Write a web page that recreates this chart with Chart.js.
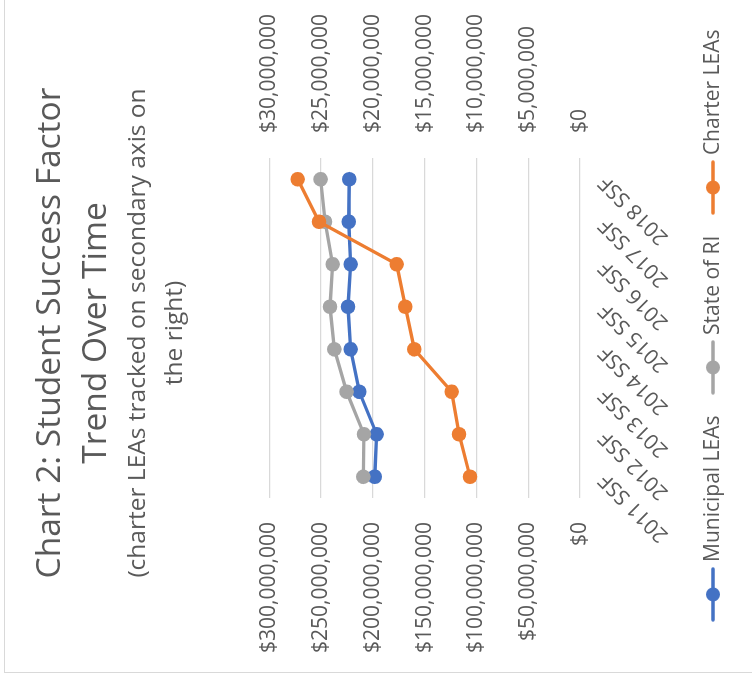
<!DOCTYPE html>
<html>
<head>
<meta charset="utf-8">
<script src="https://cdn.jsdelivr.net/npm/chart.js@4.4.1/dist/chart.umd.min.js"></script>
<style>
  html, body { margin: 0; padding: 0; background: #fff; overflow: hidden; width: 752px; height: 684px; }
  /* The chart is laid out in portrait and turned a quarter turn counter-clockwise */
  #stage { position: absolute; left: 0; top: 0; width: 684px; height: 752px;
           transform-origin: 0 0; transform: translate(0, 684px) rotate(-90deg); }
  #box { position: absolute; left: 11px; top: 4px; width: 678px; height: 760px;
         border: 1px solid #d9d9d9; background: #fff; }
  #c { display: block; }
</style>
</head>
<body>
<div id="stage"><div id="box"><canvas id="c" width="678" height="760" style="width:678px;height:760px"></canvas></div></div>
<script>
// Student Success Factor totals by year
const categories = ['2011 SSF', '2012 SSF', '2013 SSF', '2014 SSF', '2015 SSF', '2016 SSF', '2017 SSF', '2018 SSF'];
const municipalLEAs = [198200000, 196300000, 213100000, 221400000, 224000000, 221400000, 223300000, 222800000];
const stateOfRI     = [209200000, 208600000, 225300000, 237200000, 241400000, 238800000, 246200000, 250400000];
const charterLEAs   = [10620000, 11680000, 12390000, 16000000, 16870000, 17700000, 25200000, 27260000];

// Axis ranges
const primaryMax = 300000000, primaryStep = 50000000;
const secondaryMax = 30000000, secondaryStep = 5000000;

const FONT = "'Open Sans', 'Liberation Sans', sans-serif";
const TEXT = '#595959';
const GRID = '#d9d9d9';
const COLORS = { municipal: '#4472C4', state: '#A5A5A5', charter: '#ED7D31' };

const money = v => '$' + Math.round(v).toLocaleString('en-US');

// Legend swatch: short line with a round marker in the middle
function swatch(color) {
  const c = document.createElement('canvas');
  c.width = 55; c.height = 16;
  const g = c.getContext('2d');
  g.strokeStyle = color; g.lineWidth = 3.5; g.lineCap = 'round';
  g.beginPath(); g.moveTo(2, 8); g.lineTo(53, 8); g.stroke();
  g.fillStyle = color;
  g.beginPath(); g.arc(27.5, 8, 7, 0, Math.PI * 2); g.fill();
  return c;
}

function series(label, data, color, axis, order) {
  return {
    label, data, yAxisID: axis, order,
    borderColor: color, backgroundColor: color,
    borderWidth: 3.3, pointRadius: 7.3, pointHoverRadius: 7.3,
    pointBorderWidth: 0, pointBackgroundColor: color,
    pointStyle: 'circle',
    tension: 0
  };
}

const swatches = [swatch(COLORS.municipal), swatch(COLORS.state), swatch(COLORS.charter)];

// Nudge the legend row a little to the right of centre
const legendShift = {
  id: 'legendShift',
  afterLayout(chart) {
    const lg = chart.legend;
    if (lg) { lg.left += 10; lg.right += 10; }
  }
};

new Chart(document.getElementById('c'), {
  type: 'line',
  data: {
    labels: categories,
    datasets: [
      series('Municipal LEAs', municipalLEAs, COLORS.municipal, 'y', 2),
      series('State of RI', stateOfRI, COLORS.state, 'y', 1),
      series('Charter LEAs', charterLEAs, COLORS.charter, 'y2', 0)
    ]
  },
  plugins: [legendShift],
  options: {
    responsive: false,
    animation: false,
    devicePixelRatio: 1,
    layout: { padding: { left: 0, right: 0, top: 0, bottom: 31.5 } },
    scales: {
      x: {
        offset: true,
        grid: { display: false, drawTicks: false },
        border: { display: false },
        ticks: { color: TEXT, font: { family: FONT, size: 21 }, minRotation: 45, maxRotation: 45, padding: 14, autoSkip: false },
        afterFit: s => { s.height = 96.5; }
      },
      y: {
        position: 'left',
        min: 0, max: primaryMax,
        grid: { color: GRID, lineWidth: 1.3, drawTicks: false },
        border: { display: false },
        ticks: { stepSize: primaryStep, color: TEXT, font: { family: FONT, size: 21 }, padding: 24, callback: money },
        afterFit: s => { s.width = 174; }
      },
      y2: {
        position: 'right',
        min: 0, max: secondaryMax,
        grid: { display: false, drawTicks: false },
        border: { display: false },
        ticks: { stepSize: secondaryStep, color: TEXT, font: { family: FONT, size: 21 }, padding: 25, callback: money },
        afterFit: s => { s.width = 164; }
      }
    },
    plugins: {
      title: {
        display: true,
        text: ['Chart 2: Student Success Factor', 'Trend Over Time'],
        color: TEXT,
        font: { family: FONT, size: 33.5, weight: 'normal', lineHeight: '46px' },
        padding: { top: 22, bottom: 0 }
      },
      subtitle: {
        display: true,
        text: ['(charter LEAs tracked on secondary axis on', 'the right)'],
        color: TEXT,
        font: { family: FONT, size: 24.5, weight: 'normal', lineHeight: '37px' },
        padding: { top: 0.5, bottom: 75.8 }
      },
      legend: {
        position: 'bottom',
        labels: {
          color: TEXT,
          font: { family: FONT, size: 21 },
          usePointStyle: true,
          pointStyleWidth: 44,
          padding: 26,
          generateLabels: chart => chart.data.datasets.map((d, i) => ({
            text: d.label,
            pointStyle: swatches[i],
            fillStyle: d.borderColor,
            strokeStyle: d.borderColor,
            lineWidth: 0,
            hidden: false,
            datasetIndex: i,
            fontColor: TEXT
          }))
        }
      },
      tooltip: { enabled: false }
    }
  }
});
</script>
</body>
</html>
